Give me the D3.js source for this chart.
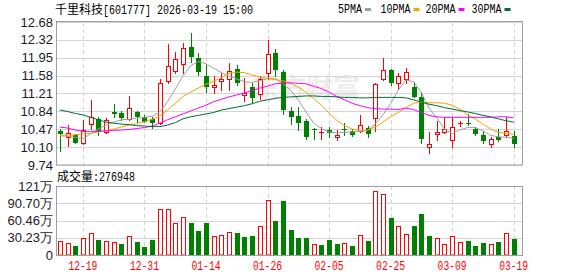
<!DOCTYPE html>
<html>
<head>
<meta charset="utf-8">
<script src="https://cdnjs.cloudflare.com/ajax/libs/d3/7.8.5/d3.min.js"></script>
<style>
  body { margin: 0; background: #fff; }
  svg { display: block; }
</style>
</head>
<body>
<script>
// Trading days shown on the chart
var dates = ["12-16","12-17","12-18","12-19","12-22","12-23","12-24","12-25","12-26","12-29","12-30","12-31",
  "01-05","01-06","01-07","01-08","01-09","01-12","01-13","01-14","01-15","01-16","01-19","01-20","01-21",
  "01-22","01-23","01-26","01-27","01-28","01-29","01-30","02-02","02-03","02-04","02-05","02-06","02-09",
  "02-10","02-11","02-12","02-13","02-24","02-25","02-26","02-27","03-02","03-03","03-04","03-05","03-06",
  "03-09","03-10","03-11","03-12","03-13","03-16","03-17","03-18","03-19"];

// Daily prices
var openPrices = [10.43,10.31,10.36,10.20,10.58,10.69,10.42,10.82,10.80,10.69,10.82,10.73,10.68,10.61,11.47,
  11.68,11.81,12.17,11.95,11.57,11.35,11.47,11.50,11.71,11.17,11.35,11.19,11.63,12.05,11.66,10.86,10.75,10.64,
  10.49,10.40,10.46,10.31,10.48,10.44,10.43,10.51,10.70,11.50,11.69,11.42,11.50,11.34,11.13,10.10,10.38,10.42,
  10.25,10.58,10.61,10.49,10.36,10.17,10.32,10.36,10.34];
var highPrices = [10.47,10.56,10.38,10.67,11.08,10.72,10.70,10.99,10.86,11.16,10.86,10.77,10.73,11.50,12.22,
  12.07,12.24,12.46,12.04,11.80,11.56,11.63,11.84,11.80,11.52,11.42,11.56,12.30,12.12,11.69,10.94,10.94,10.68,
  10.51,10.53,10.53,10.45,10.61,10.49,10.77,10.54,11.42,11.93,11.71,11.63,11.73,11.45,11.25,10.42,10.64,10.72,
  10.72,10.64,10.78,10.53,10.44,10.32,10.47,10.72,10.43];
var lowPrices = [10.03,10.13,10.19,10.17,10.49,10.36,10.39,10.73,10.67,10.67,10.63,10.62,10.51,10.58,11.43,
  11.63,11.63,11.85,11.59,11.25,11.23,11.28,11.28,11.38,11.06,11.04,11.09,11.50,11.57,10.79,10.58,10.45,10.28,
  10.28,10.28,10.32,10.26,10.36,10.34,10.41,10.31,10.43,11.48,11.38,11.30,11.42,11.13,10.20,9.99,10.26,10.40,
  10.10,10.54,10.56,10.36,10.20,10.10,10.24,10.32,10.10];
var closePrices = [10.38,10.40,10.20,10.46,10.72,10.44,10.67,10.79,10.70,10.91,10.72,10.63,10.60,11.42,11.78,
  11.91,12.14,11.97,11.66,11.35,11.38,11.51,11.67,11.43,11.23,11.11,11.50,12.02,11.69,10.87,10.73,10.61,10.31,
  10.47,10.41,10.39,10.36,10.45,10.36,10.57,10.38,11.40,11.69,11.42,11.57,11.66,11.14,10.27,10.17,10.42,10.48,
  10.52,10.61,10.58,10.37,10.24,10.28,10.26,10.44,10.17];

// Volume, in 万 shares
var volumes = [24.5,20.5,15.8,29.2,38.0,26.3,24.5,22.2,19.3,32.7,22.8,14.0,26.3,80.0,80.0,55.5,66.0,56.1,42.1,
  56.1,32.7,34.5,40.3,38.6,31.5,33.3,50.8,96.4,59.6,94.6,43.8,29.8,29.8,19.3,17.5,26.3,19.3,21.0,15.8,35.1,24.5,
  112.2,106.9,64.8,50.8,36.8,50.8,71.9,33.3,29.8,19.3,33.3,22.8,24.5,15.8,21.0,19.3,22.8,38.6,27.6948];

// Moving averages as drawn
var ma5 = [10.34,10.33,10.31,10.28,10.38,10.48,10.56,10.62,10.67,10.68,10.70,10.72,10.74,10.83,11.04,11.30,
  11.57,11.78,11.87,11.82,11.73,11.64,11.57,11.51,11.45,11.44,11.47,11.52,11.51,11.41,11.28,11.08,10.83,10.60,
  10.49,10.42,10.40,10.41,10.42,10.43,10.45,10.58,10.77,11.00,11.28,11.49,11.45,11.23,10.91,10.71,10.48,10.38,
  10.46,10.51,10.51,10.44,10.35,10.32,10.31,10.29];
var ma10 = [10.36,10.35,10.36,10.38,10.39,10.42,10.44,10.48,10.52,10.56,10.59,10.63,10.68,10.75,10.87,11.01,
  11.15,11.24,11.32,11.40,11.46,11.54,11.62,11.65,11.64,11.59,11.55,11.52,11.50,11.47,11.42,11.34,11.24,11.11,
  10.97,10.81,10.66,10.55,10.48,10.45,10.46,10.52,10.62,10.73,10.82,10.92,11.01,11.03,11.02,11.02,11.01,10.97,
  10.89,10.77,10.69,10.58,10.48,10.41,10.39,10.37];
var ma20 = [10.52,10.50,10.46,10.43,10.43,10.43,10.44,10.45,10.46,10.47,10.49,10.51,10.54,10.60,10.67,10.73,
  10.79,10.85,10.91,10.97,11.04,11.09,11.14,11.18,11.22,11.27,11.32,11.36,11.41,11.42,11.43,11.42,11.41,11.36,
  11.31,11.24,11.15,11.08,11.01,10.96,10.92,10.90,10.89,10.89,10.88,10.91,10.88,10.82,10.76,10.73,10.72,10.72,
  10.72,10.72,10.72,10.72,10.72,10.73,10.73,10.71];
var ma30 = [10.87,10.84,10.80,10.77,10.72,10.67,10.62,10.60,10.58,10.57,10.55,10.54,10.53,10.53,10.56,10.61,
  10.69,10.73,10.76,10.79,10.82,10.87,10.90,10.93,10.96,11.00,11.05,11.08,11.11,11.13,11.14,11.15,11.16,11.16,
  11.15,11.15,11.14,11.13,11.13,11.12,11.12,11.13,11.13,11.13,11.13,11.12,11.08,11.03,10.99,10.96,10.92,10.89,
  10.86,10.83,10.80,10.76,10.73,10.69,10.65,10.62];

// Axis labels
var priceTicks = ["12.68","12.32","11.95","11.58","11.21","10.84","10.47","10.10","9.74"];
var volumeTicks = ["121万","90.70万","60.46万","30.23万","0"];
var dateTicks = ["12-19","12-31","01-14","01-26","02-05","02-25","03-09","03-19"];

var maSeries = [
  { name: "5PMA", values: ma5, color: "#a0a0a0" },
  { name: "10PMA", values: ma10, color: "#f5a300" },
  { name: "20PMA", values: ma20, color: "#ff00ff" },
  { name: "30PMA", values: ma30, color: "#006b35" }
];

var svgWidth = 578;
var svgHeight = 276;

// Panel boxes
var left = 56, right = 522;
var priceTop = 22, priceBottom = 165;
var volTop = 186, volBottom = 255;

var redColor = "#ff0000";
var greenColor = "#008000";
var gridColor = "#d4d4d4";
var borderColor = "#a0a0a0";
var monoFont = "'Liberation Mono', 'DejaVu Sans Mono', monospace";
var cjkFont = "'Noto Sans CJK SC', sans-serif";
var labelFont = "'Liberation Sans', Arial, sans-serif";

var svg = d3.select("body")
  .append("svg")
  .attr("width", svgWidth)
  .attr("height", svgHeight);

// Scales
var xScale = d3.scaleBand()
  .domain(dates)
  .range([left, 517.5]);

function xCenter(d) {
  return Math.round(xScale(d) + xScale.bandwidth() / 2);
}

var yPrice = d3.scaleLinear()
  .domain([9.74, 12.68])
  .range([priceBottom, priceTop]);

var yVol = d3.scaleLinear()
  .domain([0, 120.93])
  .range([volBottom, volTop]);

// Header
svg.append("text")
  .attr("x", 55)
  .attr("y", 14)
  .attr("font-family", cjkFont)
  .attr("font-size", 12)
  .attr("fill", "#000")
  .text("千里科技");

svg.append("text")
  .attr("x", 103)
  .attr("y", 13.5)
  .attr("font-family", monoFont)
  .attr("font-size", 12)
  .attr("fill", "#000")
  .attr("textLength", 150)
  .attr("lengthAdjust", "spacingAndGlyphs")
  .text("[601777] 2026-03-19 15:00");

// Legend
var legendX = [338, 380.5, 425.5, 471.5];
var legend = svg.selectAll(".legend")
  .data(maSeries)
  .enter()
  .append("g")
  .attr("class", "legend")
  .attr("transform", (d, i) => `translate(${legendX[i]}, 0)`);

legend.append("text")
  .attr("x", 0)
  .attr("y", 13)
  .attr("font-family", monoFont)
  .attr("font-size", 12)
  .attr("fill", "#000")
  .attr("textLength", d => d.name.length * 6)
  .attr("lengthAdjust", "spacingAndGlyphs")
  .text(d => d.name);

legend.append("rect")
  .attr("x", d => d.name.length * 6 + 3)
  .attr("y", 8)
  .attr("width", 6)
  .attr("height", 3)
  .attr("fill", d => d.color);

// Watermark
svg.append("text")
  .attr("x", 306)
  .attr("y", 98)
  .attr("text-anchor", "middle")
  .attr("font-family", cjkFont)
  .attr("font-weight", "bold")
  .attr("font-size", 27)
  .attr("fill", "#ececec")
  .text("东方财富");

// Grid lines, price panel
svg.append("g")
  .selectAll("line")
  .data(priceTicks)
  .enter()
  .append("line")
  .attr("x1", left)
  .attr("x2", right)
  .attr("y1", d => Math.round(yPrice(+d)) + 0.5)
  .attr("y2", d => Math.round(yPrice(+d)) + 0.5)
  .attr("stroke", gridColor);

// Grid lines, volume panel
svg.append("g")
  .selectAll("line")
  .data(volumeTicks)
  .enter()
  .append("line")
  .attr("x1", left)
  .attr("x2", right)
  .attr("y1", d => Math.round(yVol(parseFloat(d))) + 0.5)
  .attr("y2", d => Math.round(yVol(parseFloat(d))) + 0.5)
  .attr("stroke", gridColor);

// Dashed date lines in both panels
[[priceTop, priceBottom], [volTop, volBottom]].forEach(function(span) {
  svg.append("g")
    .selectAll("line")
    .data(dateTicks)
    .enter()
    .append("line")
    .attr("x1", d => xCenter(d) + 0.5)
    .attr("x2", d => xCenter(d) + 0.5)
    .attr("y1", span[0])
    .attr("y2", span[1])
    .attr("stroke", gridColor)
    .attr("stroke-dasharray", "4,3");
});

// Candles
var candles = svg.append("g");
dates.forEach(function(d, i) {
  var cx = xCenter(d);
  var yo = Math.round(yPrice(openPrices[i]));
  var yc = Math.round(yPrice(closePrices[i]));
  var yh = Math.round(yPrice(highPrices[i]));
  var yl = Math.round(yPrice(lowPrices[i]));
  var up = closePrices[i] >= openPrices[i];

  if (up) {
    var top = yc, bottom = yo;
    if (bottom - top < 2) {
      candles.append("line")
        .attr("x1", cx + 0.5).attr("x2", cx + 0.5)
        .attr("y1", yh).attr("y2", yl + 1)
        .attr("stroke", redColor);
      candles.append("line")
        .attr("x1", cx - 2).attr("x2", cx + 3)
        .attr("y1", top + 0.5).attr("y2", top + 0.5)
        .attr("stroke", redColor);
    } else {
      candles.append("line")
        .attr("x1", cx + 0.5).attr("x2", cx + 0.5)
        .attr("y1", yh).attr("y2", top)
        .attr("stroke", redColor);
      candles.append("line")
        .attr("x1", cx + 0.5).attr("x2", cx + 0.5)
        .attr("y1", bottom).attr("y2", yl + 1)
        .attr("stroke", redColor);
      candles.append("rect")
        .attr("x", cx - 1.5)
        .attr("y", top + 0.5)
        .attr("width", 4)
        .attr("height", bottom - top)
        .attr("fill", "#fff")
        .attr("stroke", redColor);
    }
  } else {
    candles.append("line")
      .attr("x1", cx + 0.5).attr("x2", cx + 0.5)
      .attr("y1", yh).attr("y2", yl + 1)
      .attr("stroke", greenColor);
    candles.append("rect")
      .attr("x", cx - 2)
      .attr("y", yo)
      .attr("width", 5)
      .attr("height", Math.max(1, yc - yo))
      .attr("fill", greenColor);
  }
});

// Moving average lines
var drawLine = d3.line()
  .x((v, i) => xScale(dates[i]) + xScale.bandwidth() / 2)
  .y(v => yPrice(v));

svg.append("g")
  .selectAll("path")
  .data(maSeries)
  .enter()
  .append("path")
  .attr("d", d => drawLine(d.values))
  .attr("fill", "none")
  .attr("stroke", d => d.color)
  .attr("stroke-width", 1);

// Volume bars, coloured by change against the day before
var bars = svg.append("g");
dates.forEach(function(d, i) {
  var cx = xCenter(d);
  var top = Math.round(yVol(volumes[i]));
  var up = i === 0 || closePrices[i] >= closePrices[i - 1];
  if (up) {
    bars.append("rect")
      .attr("x", cx - 1.5)
      .attr("y", top + 0.5)
      .attr("width", 4)
      .attr("height", volBottom - top - 0.5)
      .attr("fill", "#fff")
      .attr("stroke", redColor);
  } else {
    bars.append("rect")
      .attr("x", cx - 2)
      .attr("y", top)
      .attr("width", 5)
      .attr("height", volBottom - top)
      .attr("fill", greenColor);
  }
});

// Panel borders
svg.append("rect")
  .attr("x", left + 0.5)
  .attr("y", priceTop - 0.5)
  .attr("width", right - left)
  .attr("height", priceBottom - priceTop + 0.5)
  .attr("fill", "none")
  .attr("stroke", borderColor);

svg.append("rect")
  .attr("x", left + 0.5)
  .attr("y", volTop + 0.5)
  .attr("width", right - left)
  .attr("height", volBottom - volTop)
  .attr("fill", "none")
  .attr("stroke", borderColor);

// Price axis labels
var leftAxis = d3.axisLeft(yPrice)
  .tickValues(priceTicks.map(Number))
  .tickSize(0)
  .tickPadding(3)
  .tickFormat((d, i) => priceTicks[i]);

svg.append("g")
  .attr("transform", `translate(${left}, 0)`)
  .call(leftAxis)
  .call(g => g.select(".domain").remove())
  .selectAll("text")
  .attr("font-family", labelFont)
  .attr("font-size", 13)
  .attr("fill", "#1a1a2a");

// Volume axis labels
var volAxis = d3.axisLeft(yVol)
  .tickValues(volumeTicks.map(t => parseFloat(t)))
  .tickSize(0)
  .tickPadding(3)
  .tickFormat((d, i) => volumeTicks[i]);

svg.append("g")
  .attr("transform", `translate(${left}, 0)`)
  .call(volAxis)
  .call(g => g.select(".domain").remove())
  .selectAll("text")
  .attr("font-family", labelFont)
  .attr("font-size", 13)
  .attr("fill", "#1a1a2a");

// Date labels
var bottomAxis = d3.axisBottom(xScale)
  .tickValues(dateTicks)
  .tickSize(0)
  .tickPadding(6);

svg.append("g")
  .attr("transform", `translate(0, ${volBottom})`)
  .call(bottomAxis)
  .call(g => g.select(".domain").remove())
  .selectAll("text")
  .attr("font-family", monoFont)
  .attr("font-size", 12)
  .attr("textLength", 29)
  .attr("lengthAdjust", "spacingAndGlyphs")
  .attr("fill", redColor);

// Volume caption
svg.append("text")
  .attr("x", 57)
  .attr("y", 181)
  .attr("font-family", cjkFont)
  .attr("font-size", 12)
  .attr("fill", "#000")
  .text("成交量");

svg.append("text")
  .attr("x", 93)
  .attr("y", 181)
  .attr("font-family", monoFont)
  .attr("font-size", 12)
  .attr("fill", "#000")
  .attr("textLength", 42)
  .attr("lengthAdjust", "spacingAndGlyphs")
  .text(":" + Math.round(volumes[volumes.length - 1] * 10000));
</script>
</body>
</html>
